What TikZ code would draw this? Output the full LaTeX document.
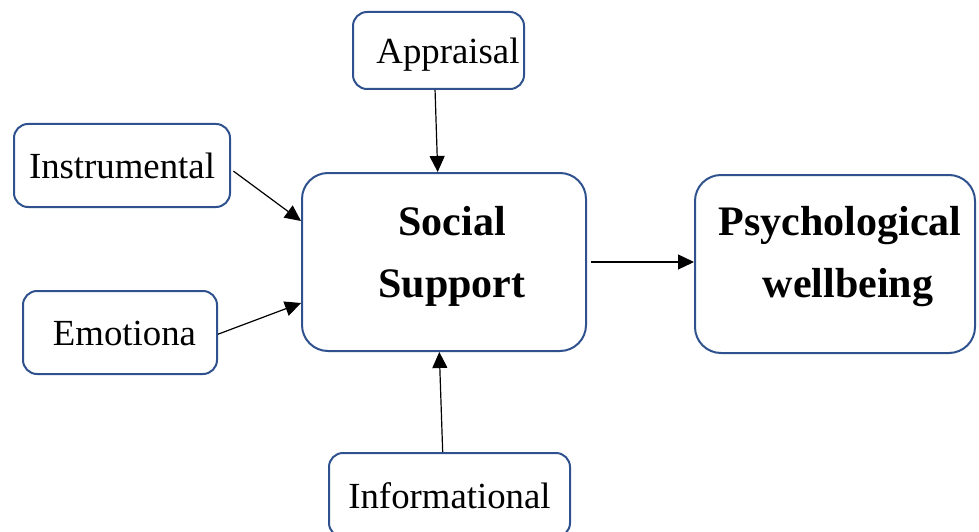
\documentclass[tikz,border=0pt]{standalone}
\usepackage{fontspec}
\setmainfont{Liberation Serif}
\usetikzlibrary{arrows.meta, positioning}
\definecolor{boxblue}{RGB}{47,82,143}

\begin{document}
\begin{tikzpicture}[x=1pt, y=-1pt,
        factor/.style={rectangle, draw=boxblue, line width=2pt, rounded corners=14pt, align=center, inner sep=0pt, text height=34pt, text depth=8pt, font=\fontsize{36.8}{44}\selectfont},
        outcome/.style={rectangle, draw=boxblue, line width=2pt, rounded corners=26pt, align=center, inner sep=0pt, text depth=9pt, font=\fontsize{42}{62}\selectfont\bfseries},
        arrow/.style={-{Triangle[length=16pt, width=15pt]}, line width=1.2pt}
        ]
        \useasboundingbox (0,0) rectangle (979,532);

        % Nodes
        \node (appr) [factor, minimum width=171pt, minimum height=77pt] at (438.5,50.5) {\hspace*{19pt}Appraisal};
        \node (instr) [factor, minimum width=216pt, minimum height=83pt] at (122,165.5) {Instrumental};
        \node (emot) [factor, minimum width=194pt, minimum height=83pt] at (120,332.5) {\hspace*{9pt}Emotiona};
        \node (social) [outcome, text height=79pt, minimum width=284pt, minimum height=178pt] at (444,262) {\hspace*{16pt}Social\\\hspace*{16pt}Support};
        \node (psych) [outcome, text height=75pt, minimum width=280pt, minimum height=178pt] at (835,264) {\hspace*{10pt}Psychological\\\hspace*{26pt}wellbeing};
        \node (info) [factor, minimum width=241pt, minimum height=84pt] at (449.5,495) {Informational};

        % Arrows
        \draw [arrow] (appr.265) -- (social.94);
        \draw [arrow, shorten <=3pt] (instr.-2) -- (social.164);
        \draw [arrow] (emot.-1) -- (social.196);
        \draw [arrow, shorten <=4pt] (social.east) -- (social.east -| psych.west);
        \draw [arrow] (info.99) -- (social.267);

    \end{tikzpicture}
\end{document}
